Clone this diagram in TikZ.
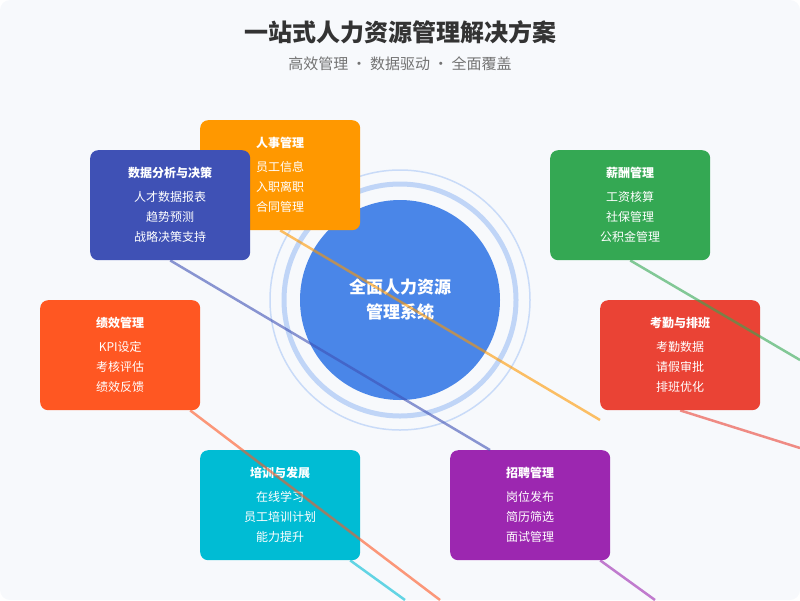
\documentclass[tikz,border=0pt]{standalone}
\usepackage{fontspec}
\setmainfont{Noto Sans CJK SC}
\begin{document}
\begin{tikzpicture}[x=1pt,y=-1pt,
  card/.style={rounded corners=8pt,minimum width=160pt,minimum height=110pt,anchor=north west,inner sep=0pt,text=white,align=center,font=\fontsize{12}{20}\selectfont},
  ray/.style={line width=2.5pt,opacity=0.6}]
\definecolor{bg}{HTML}{F7F9FC}
\definecolor{cA}{HTML}{FF9800}\definecolor{cB}{HTML}{3F51B5}\definecolor{cC}{HTML}{34A853}
\definecolor{cD}{HTML}{FF5722}\definecolor{cE}{HTML}{EA4335}\definecolor{cF}{HTML}{00BCD4}
\definecolor{cG}{HTML}{9C27B0}\definecolor{core}{HTML}{4A86E8}
\fill[bg,rounded corners=10pt] (0,0) rectangle (800,600);
\useasboundingbox (0,0) rectangle (800,600);
\node[font=\bfseries\fontsize{24}{28}\selectfont,text=black!80] (title) at (400,32) {一站式人力资源管理解决方案};
\node[font=\fontsize{15}{18}\selectfont,text=black!55] (sub) at (400,64) {高效管理 · 数据驱动 · 全面覆盖};
\draw[core!30,line width=1.5pt] (400,300) circle (130);
\draw[core!35,line width=5pt] (400,300) circle (116);
\node[circle,fill=core,minimum size=200pt,inner sep=0pt,text=white,align=center,font=\bfseries\fontsize{17}{25}\selectfont] (hub) at (400,300) {全面人力资源\\管理系统};
\node[card,fill=cA] (hr) at (200,120) {\textbf{\large 人事管理}\\[4pt]员工信息\\入职离职\\合同管理};
\node[card,fill=cB] (da) at (90,150) {\textbf{\large 数据分析与决策}\\[4pt]人才数据报表\\趋势预测\\战略决策支持};
\node[card,fill=cC] (pay) at (550,150) {\textbf{\large 薪酬管理}\\[4pt]工资核算\\社保管理\\公积金管理};
\node[card,fill=cD] (perf) at (40,300) {\textbf{\large 绩效管理}\\[4pt]KPI设定\\考核评估\\绩效反馈};
\node[card,fill=cE] (att) at (600,300) {\textbf{\large 考勤与排班}\\[4pt]考勤数据\\请假审批\\排班优化};
\node[card,fill=cF] (tr) at (200,450) {\textbf{\large 培训与发展}\\[4pt]在线学习\\员工培训计划\\能力提升};
\node[card,fill=cG] (rec) at (450,450) {\textbf{\large 招聘管理}\\[4pt]岗位发布\\简历筛选\\面试管理};
\coordinate (e1) at (600,420);\coordinate (e2) at (490,450);\coordinate (e3) at (800,360);
\coordinate (e4) at (800,448);\coordinate (e5) at (440,600);\coordinate (e6) at (405,600);\coordinate (e7) at (655,600);
\draw[ray,cA] (hr.south) -- (e1);
\draw[ray,cB] (da.south) -- (e2);
\draw[ray,cC] (pay.south) -- (e3);
\draw[ray,cE] (att.south) -- (e4);
\draw[ray,cD] ([xshift=70pt]perf.south) -- (e5);
\draw[ray,cF] ([xshift=70pt]tr.south) -- (e6);
\draw[ray,cG] ([xshift=70pt]rec.south) -- (e7);
\end{tikzpicture}
\end{document}
